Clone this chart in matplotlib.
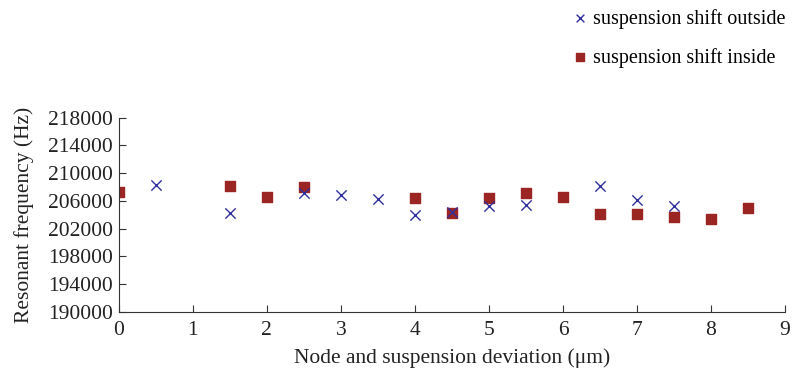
import matplotlib.pyplot as plt

# suspension shift outside (x markers)
x_out = [0.5, 1.5, 2.5, 3.0, 3.5, 4.0, 4.5, 5.0, 5.5, 6.5, 7.0, 7.5]
f_out = [208300, 204200, 207200, 206850, 206250, 203950, 204350, 205250, 205450, 208150, 206100, 205250]

# suspension shift inside (squares)
x_in = [0.0, 1.5, 2.0, 2.5, 4.0, 4.5, 5.0, 5.5, 6.0, 6.5, 7.0, 7.5, 8.0, 8.5]
f_in = [207250, 208200, 206550, 208000, 206350, 204300, 206350, 207200, 206550, 204100, 204100, 203700, 203450, 204900]

yticks = [190000, 194000, 198000, 202000, 206000, 210000, 214000, 218000]

plt.rcParams['font.family'] = ['Liberation Serif', 'DejaVu Serif']
plt.rcParams['font.size'] = 15.5

fig = plt.figure(figsize=(7.97, 3.76), dpi=100)
ax = fig.add_axes([0.149, 0.171, 0.836, 0.516])

ax.scatter(x_out, f_out, marker='x', s=55, color='#2f2fa0', linewidths=1.0,
           label='suspension shift outside', zorder=3)
ax.scatter(x_in, f_in, marker='s', s=55, color='#9a2523',
           label='suspension shift inside', zorder=2)

ax.set_xlim(0, 9)
ax.set_ylim(190000, 218000)
ax.set_xticks(range(10))
ax.set_yticks(yticks)
ax.set_yticklabels([str(v) for v in yticks])

for s in ['top', 'right']:
    ax.spines[s].set_visible(False)
for s in ['left', 'bottom']:
    ax.spines[s].set_color('#333333')
ax.tick_params(direction='in', length=5, color='#333333', labelcolor='#222222')
ax.tick_params(axis='x', pad=7)
ax.tick_params(axis='y', pad=4)

ax.set_xlabel('Node and suspension deviation (μm)', color='#222222', labelpad=6)
ax.set_ylabel('Resonant frequency (Hz)', color='#222222', labelpad=10)

fig.legend(loc='upper left', bbox_to_anchor=(0.720, 0.977), frameon=False,
           borderpad=0, borderaxespad=0,
           handletextpad=0.35, labelspacing=0.95, handlelength=0.6,
           markerscale=0.75, fontsize=14.5)

fig.savefig('out.png', dpi=100)
